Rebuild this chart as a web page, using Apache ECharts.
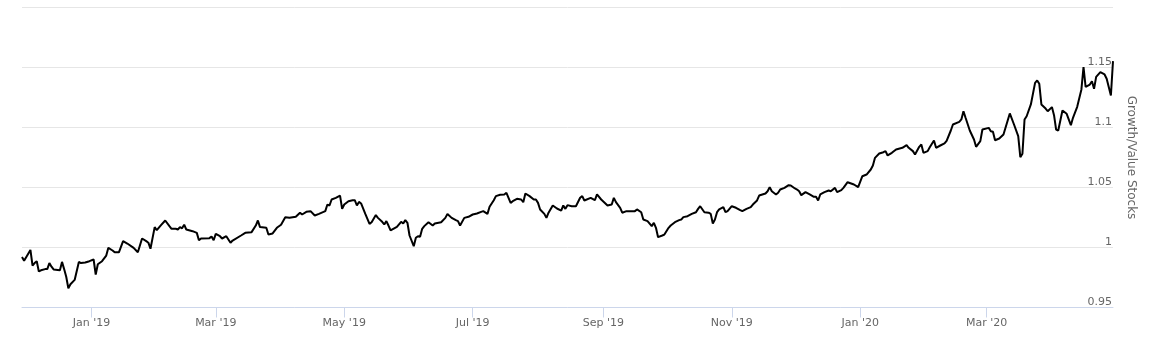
<!DOCTYPE html>
<html><head><meta charset="utf-8">
<script src="https://cdn.jsdelivr.net/npm/echarts@6/dist/echarts.min.js"></script>
<style>html,body{margin:0;padding:0;background:#fff}#c{width:1153px;height:351px}</style>
</head><body><div id="c"></div>
<script>
// Dates are given as days after baseDate
const baseDate = '2019-01-01';
const startDay = -33;   // 2018-11-29
const endDay = 485;     // 2020-04-30
const tickDates = ['2019-01-01','2019-03-01','2019-05-01','2019-07-01','2019-09-01','2019-11-01','2020-01-01','2020-03-01'];
const tickLabels = ["Jan '19","Mar '19","May '19","Jul '19","Sep '19","Nov '19","Jan '20","Mar '20"];
const yMin = 0.95, yMax = 1.2, yStep = 0.05;
const axisName = 'Growth/Value Stocks';
// [day, Growth/Value ratio]
const growthValueRatio = [
[-33,0.992],[-32,0.989],[-29,0.998],[-28,0.985],[-27,0.987],[-26,0.9886],[-25,0.980],[-24,0.981],[-22,0.982],[-21,0.982],
[-20,0.987],[-19,0.984],[-18,0.9817],[-15,0.981],[-14,0.988],[-13,0.982],[-12,0.9756],[-11,0.966],[-10,0.9694],[-8,0.973],
[-6,0.988],[-5,0.987],[-3,0.9875],[-1,0.9886],[1,0.990],[2,0.9775],[3,0.986],[5,0.9886],[7,0.9933],[8,0.9997],
[10,0.9975],[11,0.996],[13,0.996],[15,1.0053],[17,1.0033],[20,0.9997],[22,0.996],[24,1.0075],[26,1.0053],[27,1.004],
[28,0.999],[30,1.017],[31,1.0144],[33,1.0186],[35,1.0225],[37,1.0178],[38,1.0156],[40,1.0156],
[41,1.015],[42,1.017],[43,1.016],[44,1.019],[45,1.015],[48,1.0136],[50,1.0122],[51,1.006],[52,1.0075],[56,1.0078],
[57,1.0092],[58,1.006],[59,1.0114],[61,1.0094],[62,1.0075],[64,1.0094],[66,1.004],[67,1.0058],[71,1.01],[73,1.0122],
[76,1.0128],[78,1.0183],[79,1.0225],[80,1.017],[83,1.0164],[84,1.0108],[86,1.0117],[88,1.0164],[90,1.019],[92,1.0253],
[94,1.0247],[97,1.0256],[99,1.029],[100,1.0275],[102,1.0297],[104,1.0303],[106,1.0267],[108,1.028],[111,1.0303],[112,1.0358],
[113,1.035],[114,1.04],[116,1.0414],[118,1.0433],[119,1.0322],[120,1.0358],[122,1.0386],[124,1.0394],[125,1.0394],[126,1.035],
[127,1.038],[128,1.0367],[130,1.028],[132,1.0197],[133,1.021],[135,1.027],[136,1.0247],[138,1.0214],[139,1.0192],[140,1.022],
[141,1.0183],[142,1.0142],[145,1.0172],[147,1.0214],[148,1.02],[149,1.0228],[150,1.0206],[151,1.01],[153,1.0011],[154,1.0081],
[155,1.0094],[156,1.0089],[157,1.0156],[158,1.0178],[160,1.0211],[162,1.0183],[163,1.02],[166,1.0211],[168,1.0247],[169,1.028],
[171,1.0247],[173,1.0228],[174,1.022],[175,1.0183],[177,1.0247],[179,1.0256],[181,1.0275],[183,1.0283],[185,1.0297],
[186,1.0303],[188,1.028],[189,1.0339],[191,1.0394],[192,1.0428],[194,1.0439],[196,1.0442],[197,1.0456],[199,1.0372],[200,1.0386],
[202,1.0406],[204,1.04],[205,1.0378],[206,1.045],[208,1.0428],[210,1.04],[211,1.04],[212,1.0372],[213,1.0317],[215,1.028],
[216,1.0247],[217,1.029],[219,1.035],[221,1.0325],[223,1.0308],[224,1.035],[225,1.0322],[226,1.0353],[228,1.0344],[230,1.0344],
[232,1.0414],[233,1.0428],[234,1.0392],[237,1.0414],[239,1.0394],[240,1.0442],[242,1.04],[245,1.035],[247,1.0358],[248,1.0414],
[249,1.0378],[251,1.0331],[252,1.029],[254,1.0303],[258,1.0303],[259,1.0317],
[261,1.0294],[262,1.0233],[264,1.022],[266,1.0178],[267,1.0206],[268,1.0164],[269,1.0086],[271,1.01],[272,1.0108],[274,1.0164],
[275,1.0183],[277,1.0211],[279,1.0228],[280,1.0233],[281,1.0253],[283,1.0261],[285,1.028],[287,1.0294],[288,1.0322],[289,1.0344],
[291,1.0294],[293,1.029],[294,1.028],[295,1.02],[296,1.0233],[297,1.0294],[298,1.0317],[300,1.0336],[301,1.0294],[302,1.0303],
[304,1.0344],[306,1.0331],[308,1.0311],[309,1.0303],[311,1.0322],[313,1.0336],[314,1.0358],[316,1.0392],[317,1.0433],[320,1.045],
[321,1.0469],[322,1.0503],[323,1.0469],[325,1.0442],[326,1.0456],[327,1.0483],[329,1.0497],[331,1.0519],[332,1.0517],[334,1.0492],
[335,1.0483],[336,1.0469],[337,1.0436],[339,1.0461],[341,1.0442],[343,1.0422],[344,1.0422],[345,1.0392],[346,1.0442],[348,1.0461],
[350,1.0475],[351,1.0469],[353,1.0497],[354,1.0461],[356,1.0478],[357,1.0497],[359,1.0544],[362,1.0525],[364,1.0503],[366,1.0594],
[368,1.0608],[370,1.065],[371,1.0683],[372,1.0747],[374,1.0783],[376,1.0794],[377,1.0803],[378,1.0767],[380,1.0789],[382,1.0817],
[385,1.0831],[387,1.0853],[388,1.0831],[390,1.0803],[391,1.0775],[393,1.0839],[394,1.0858],[395,1.0789],[397,1.0803],[398,1.0836],
[400,1.0892],[401,1.0831],[403,1.085],[405,1.0867],[406,1.0889],
[408,1.0975],[409,1.1025],[412,1.1047],[413,1.1067],[414,1.1136],[415,1.1081],[417,1.0975],[419,1.09],[420,1.0839],[422,1.0886],
[423,1.0983],[426,1.0997],[427,1.0969],[428,1.0964],[429,1.0894],[431,1.0908],[433,1.0942],[435,1.1058],[436,1.1117],[438,1.1025],
[440,1.0928],[441,1.0753],[442,1.0781],[443,1.1067],[444,1.1094],[446,1.1192],[448,1.1372],[449,1.1392],[450,1.1364],[451,1.1192],
[453,1.1158],[454,1.1136],[456,1.117],[457,1.1103],[458,1.0983],[459,1.0975],[461,1.1142],[463,1.1114],[465,1.1019],[466,1.1081],
[468,1.1172],[470,1.1317],[471,1.1503],[472,1.1339],[474,1.1358],[475,1.1386],[476,1.1322],[477,1.1422],[479,1.1461],[481,1.1442],
[482,1.1406],[484,1.1267],[485,1.1553]
];

const DAY = 86400000;
const base = new Date(baseDate).getTime();
const toTs = d => base + d * DAY;
const tickTs = tickDates.map(s => new Date(s).getTime());
const seriesData = growthValueRatio.map(p => [toTs(p[0]), p[1]]);
const FONT = 'DejaVu Sans';
const TXT = '#666666';

const chart = echarts.init(document.getElementById('c'), null, {renderer: 'canvas'});
chart.setOption({
  animation: false,
  backgroundColor: '#ffffff',
  grid: {left: 22, right: 40, top: 7.5, bottom: 43.5, outerBoundsMode: 'none'},
  xAxis: {
    type: 'value',
    min: toTs(startDay),
    max: toTs(endDay),
    axisLine: {show: true, lineStyle: {color: '#ccd6eb', width: 1}},
    axisTick: {show: true, customValues: tickTs, length: 10, lineStyle: {color: '#ccd6eb', width: 1}},
    axisLabel: {
      customValues: tickTs,
      margin: 10,
      color: TXT, fontFamily: FONT, fontSize: 11,
      formatter: v => { const i = tickTs.indexOf(v); return i >= 0 ? tickLabels[i] : ''; }
    },
    splitLine: {show: false}
  },
  yAxis: {
    type: 'value',
    position: 'right',
    min: yMin, max: yMax, interval: yStep,
    name: axisName,
    nameLocation: 'middle',
    nameRotate: -90,
    nameGap: 12,
    nameTextStyle: {color: TXT, fontFamily: FONT, fontSize: 12},
    axisLine: {show: false},
    axisTick: {show: false},
    axisLabel: {
      inside: true, margin: 1, showMaxLabel: false,
      verticalAlign: 'bottom', lineHeight: 11,
      color: TXT, fontFamily: FONT, fontSize: 11,
      formatter: v => String(+v.toFixed(2))
    },
    splitLine: {show: true, lineStyle: {color: '#e6e6e6', width: 1}}
  },
  series: [{
    type: 'line',
    data: seriesData,
    showSymbol: false,
    symbol: 'none',
    lineStyle: {color: '#000000', width: 2},
    emphasis: {disabled: true}
  }]
});
</script></body></html>
